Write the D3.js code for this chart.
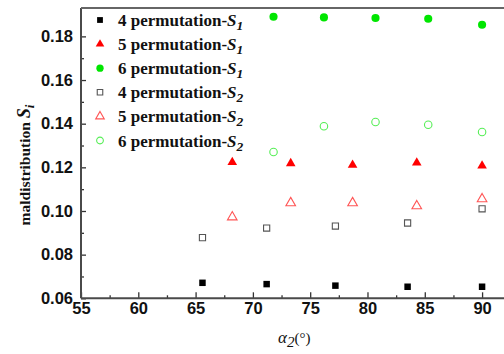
<!DOCTYPE html>
<html>
<head>
<meta charset="utf-8">
<script src="https://cdn.jsdelivr.net/npm/d3@7"></script>
<style>
  body { margin: 0; background: #fff; }
  .tick text { font-family: "Liberation Sans", Arial, sans-serif; font-weight: bold; font-size: 16.5px; fill: #111; }
  .serif { font-family: "Liberation Serif", "Times New Roman", serif; font-weight: bold; fill: #111; }
</style>
</head>
<body>
<div id="chart"></div>
<script>
// data
const x4 = [65.6, 71.2, 77.2, 83.5, 90];
const s1_4 = [0.0671, 0.0665, 0.0658, 0.0653, 0.0653];
const s2_4 = [0.0878, 0.0922, 0.0931, 0.0945, 0.1010];
const x5 = [68.2, 73.3, 78.7, 84.3, 90];
const s1_5 = [0.1223, 0.1218, 0.1211, 0.1221, 0.1207];
const s2_5 = [0.0972, 0.1037, 0.1037, 0.1023, 0.1055];
const x6 = [71.8, 76.2, 80.7, 85.3, 90];
const s1_6 = [0.1890, 0.1887, 0.1884, 0.1881, 0.1853];
const s2_6 = [0.1270, 0.1388, 0.1408, 0.1395, 0.1362];
const xTicks = [55, 60, 65, 70, 75, 80, 85, 90];
const yTicks = [0.06, 0.08, 0.10, 0.12, 0.14, 0.16, 0.18];
const legendLabels = ["4 permutation-", "5 permutation-", "6 permutation-", "4 permutation-", "5 permutation-", "6 permutation-"];
const legendSubs = ["1", "1", "1", "2", "2", "2"];

const W = 504, H = 354;
const mLeft = 81, mTop = 8, mBottom = 298.3;

const svg = d3.select("#chart").append("svg").attr("width", W).attr("height", H);

const x = d3.scaleLinear().domain([55, 92]).range([mLeft, 505]);
const y = d3.scaleLinear().domain([0.06, 0.193]).range([mBottom, mTop]);

// series styles
const series = [
  { xs: x4, ys: s1_4, type: d3.symbolSquare, size: 42, fill: "#000", stroke: "none" },
  { xs: x5, ys: s1_5, type: d3.symbolTriangle, size: 40, fill: "#ff0000", stroke: "none" },
  { xs: x6, ys: s1_6, type: d3.symbolCircle, size: 52, fill: "#00e600", stroke: "none" },
  { xs: x4, ys: s2_4, type: d3.symbolSquare, size: 38, fill: "none", stroke: "#555" },
  { xs: x5, ys: s2_5, type: d3.symbolTriangle, size: 40, fill: "none", stroke: "#ff5555" },
  { xs: x6, ys: s2_6, type: d3.symbolCircle, size: 44, fill: "none", stroke: "#55ee55" },
];

// minor ticks
svg.append("g")
  .attr("transform", `translate(0,${mBottom})`)
  .call(d3.axisBottom(x).tickValues(d3.range(57.5, 92, 5)).tickSize(-3).tickFormat(""))
  .call(g => g.select(".domain").remove())
  .call(g => g.selectAll("line").attr("stroke", "#333").attr("stroke-width", 1.3));
svg.append("g")
  .attr("transform", `translate(${mLeft},0)`)
  .call(d3.axisLeft(y).tickValues(d3.range(0.07, 0.19, 0.02)).tickSize(-3).tickFormat(""))
  .call(g => g.select(".domain").remove())
  .call(g => g.selectAll("line").attr("stroke", "#333").attr("stroke-width", 1.3));

// major axes
svg.append("g")
  .attr("transform", `translate(0,${mBottom})`)
  .call(d3.axisBottom(x).tickValues(xTicks).tickSize(-6).tickSizeOuter(0).tickPadding(4).tickFormat(d3.format("d")))
  .call(g => g.select(".domain").remove())
  .call(g => g.selectAll("line").attr("stroke", "#333").attr("stroke-width", 1.3));
svg.append("g")
  .attr("transform", `translate(${mLeft},0)`)
  .call(d3.axisLeft(y).tickValues(yTicks).tickSize(-5).tickSizeOuter(0).tickPadding(8).tickFormat(d3.format(".2f")))
  .call(g => g.select(".domain").remove())
  .call(g => g.selectAll("line").attr("stroke", "#333").attr("stroke-width", 1.3));

// frame lines
svg.append("line").attr("x1", mLeft).attr("x2", W).attr("y1", mBottom).attr("y2", mBottom)
  .attr("stroke", "#4a4a4a").attr("stroke-width", 2);
svg.append("line").attr("x1", mLeft).attr("x2", mLeft).attr("y1", mTop).attr("y2", mBottom)
  .attr("stroke", "#4a4a4a").attr("stroke-width", 2);
svg.append("line").attr("x1", mLeft).attr("x2", W).attr("y1", mTop).attr("y2", mTop)
  .attr("stroke", "#666").attr("stroke-width", 2);

// points
series.forEach(s => {
  const sym = d3.symbol().type(s.type).size(s.size);
  svg.append("g").selectAll("path")
    .data(s.xs.map((v, i) => [v, s.ys[i]]))
    .join("path")
    .attr("d", sym)
    .attr("transform", d => `translate(${x(d[0])},${y(d[1])})`)
    .attr("fill", s.fill)
    .attr("stroke", s.stroke)
    .attr("stroke-width", 1.1);
});

// legend
const lg = svg.append("g");
series.forEach((s, i) => {
  const cy = 20 + i * 24.1;
  lg.append("path")
    .attr("d", d3.symbol().type(s.type).size(s.size * 0.8)())
    .attr("transform", `translate(100,${cy})`)
    .attr("fill", s.fill).attr("stroke", s.stroke).attr("stroke-width", 1.1);
  const t = lg.append("text").attr("class", "serif").attr("x", 118).attr("y", cy + 6)
    .attr("font-size", "17px");
  t.append("tspan").text(legendLabels[i]);
  t.append("tspan").attr("font-style", "italic").text("S");
  t.append("tspan").attr("font-style", "italic").attr("dy", 4).attr("font-size", "13.5px").text(legendSubs[i]);
});

// y label
const yl = svg.append("text").attr("class", "serif")
  .attr("transform", "translate(30,165) rotate(-90)")
  .attr("text-anchor", "middle").attr("font-size", "15.5px");
yl.append("tspan").text("maldistribution ");
yl.append("tspan").attr("font-style", "italic").attr("font-size", "18px").text("S");
yl.append("tspan").attr("font-style", "italic").attr("font-size", "13px").attr("dy", 4).text("i");

// x label
const xl = svg.append("text").attr("x", 278).attr("y", 343)
  .style("font-family", '"Liberation Serif", "Times New Roman", serif').attr("font-size", "17px").attr("fill", "#111");
xl.append("tspan").attr("font-style", "italic").text("α");
xl.append("tspan").attr("font-style", "italic").attr("font-size", "15px").attr("dy", 4).text("2");
xl.append("tspan").attr("dy", -4).attr("font-size", "15px").text("(°)");
</script>
</body>
</html>
